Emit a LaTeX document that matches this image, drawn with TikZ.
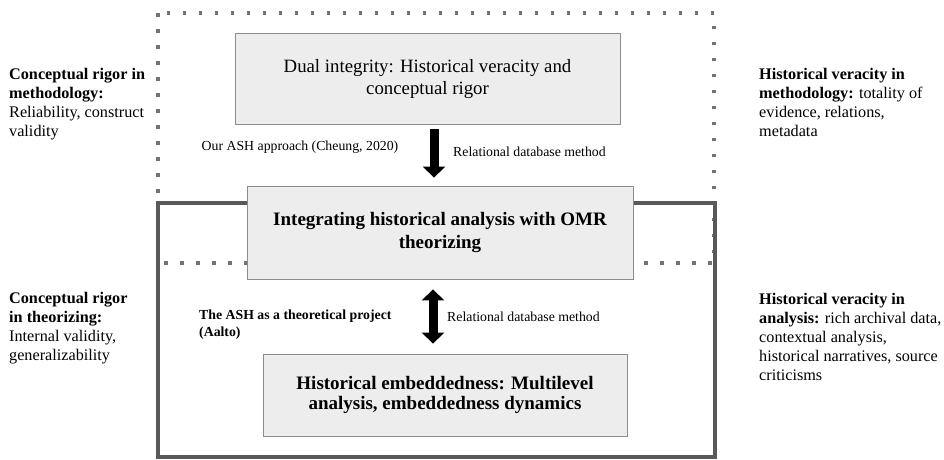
\documentclass[tikz,border=0pt]{standalone}
\usepackage{fontspec}
\setmainfont{Liberation Serif}
\usetikzlibrary{arrows.meta,positioning}

\tikzset{
  box/.style={draw=black!45,fill=black!7,line width=0.8pt,align=center,inner sep=0pt},
  side/.style={anchor=north west,align=left,inner sep=0pt,font=\fontsize{16.2}{18.8}\selectfont},
  note/.style={inner sep=0pt,font=\fontsize{13.8}{16}\selectfont},
  frame/.style={draw=black!65,line width=3.2pt},
  dots/.style={draw=black!55,line width=3.5pt,dash pattern=on 3.5pt off 12.5pt},
  bigarrow/.style={line width=9pt,-{Triangle[width=22pt,length=11pt]}},
  bigdouble/.style={line width=9pt,{Triangle[width=22pt,length=11pt]}-{Triangle[width=22pt,length=11pt]}}
}

\begin{document}
\begin{tikzpicture}[x=1pt,y=-1pt]
\useasboundingbox (0,0) rectangle (944,459);

\draw[dots] (158,13) rectangle (714,263);
\draw[frame] (158,203) rectangle (715,457);

\node[box,minimum width=385pt,minimum height=91pt,font=\fontsize{18.8}{22}\selectfont]
  (dual) at (427.5,78.5) {Dual integrity: Historical veracity and\\conceptual rigor};
\node[box,minimum width=386pt,minimum height=93pt,font=\bfseries\fontsize{19}{23}\selectfont]
  (integ) at (440,232.5) {Integrating historical analysis with OMR\\theorizing};
\node[box,minimum width=364pt,minimum height=82pt,font=\bfseries\fontsize{19}{20.5}\selectfont]
  (embed) at (445,395) {Historical embeddedness: Multilevel\\analysis, embeddedness dynamics};

\draw[bigarrow,shorten <=5pt,shorten >=8pt] ([xshift=6.5pt]dual.south) -- ([xshift=-6pt]integ.north);
\draw[bigdouble,shorten <=10pt,shorten >=10pt] ([xshift=-7pt]integ.south) -- ([xshift=-12pt]embed.north);

\node[note] (ash) at (300,147) {Our ASH approach (Cheung, 2020)};
\node[note,anchor=west] (rel1) at (453,152) {Relational database method};
\node[note,anchor=north west,align=left,font=\bfseries\fontsize{13.8}{17}\selectfont]
  (aalto) at (199,310) {The ASH as a theoretical project\\(Aalto)};
\node[note,anchor=west] (rel2) at (447,317) {Relational database method};

\node[side] (crm) at (9,68.5) {\textbf{Conceptual rigor in}\\\textbf{methodology:}\\Reliability, construct\\validity};
\node[side] (crt) at (9,292.5) {\textbf{Conceptual rigor}\\\textbf{in theorizing:}\\Internal validity,\\generalizability};
\node[side] (hvm) at (759,68.5) {\textbf{Historical veracity in}\\\textbf{methodology:} totality of\\evidence, relations,\\metadata};
\node[side] (hva) at (759,293.5) {\textbf{Historical veracity in}\\\textbf{analysis:} rich archival data,\\contextual analysis,\\historical narratives, source\\criticisms};
\end{tikzpicture}
\end{document}
